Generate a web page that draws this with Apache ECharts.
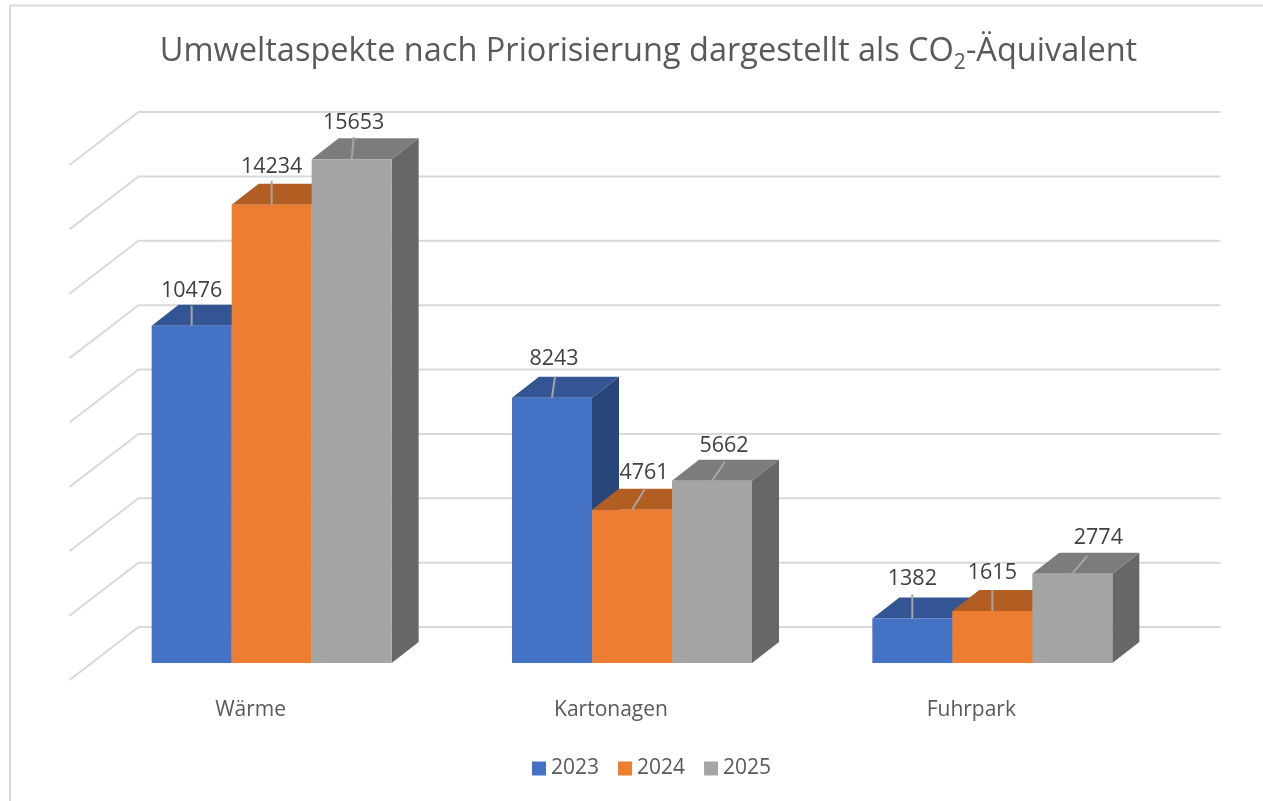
<!DOCTYPE html>
<html>
<head>
<meta charset="utf-8">
<title>Umweltaspekte</title>
<script src="https://cdn.jsdelivr.net/npm/echarts@6/dist/echarts.min.js"></script>
<style>
  html, body { margin: 0; padding: 0; background: #fff; }
  #chart { width: 1263px; height: 801px; }
</style>
</head>
<body>
<div id="chart"></div>
<script>
// Daten
var categories = ['Wärme', 'Kartonagen', 'Fuhrpark']
var values2023 = [10476, 8243, 1382]
var values2024 = [14234, 4761, 1615]
var values2025 = [15653, 5662, 2774]
var valueTicks = [0, 2000, 4000, 6000, 8000, 10000, 12000, 14000, 16000]

var FONT = '"Open Sans", sans-serif'
var GRID_COLOR = '#D9D9D9'
var BAR_W = 80
var DEPTH_X = 27
var DEPTH_Y = 21

// Farben: Front, Oberseite, Seite
var faces2023 = ['#4472C4', '#335593', '#29467A']
var faces2024 = ['#ED7D31', '#B25E22', '#9A5020']
var faces2025 = ['#A5A5A5', '#7C7C7C', '#676767']

// Versatz der Beschriftung zur Balkenoberkante: [Text x, Text y, Linie x, Linie y]
var labelOffsets2023 = [[0, -35, 0, -20], [2, -39, 3, -21], [0, -40, 0, -24]]
var labelOffsets2024 = [[0, -38, 0, -24], [12, -37, 13, -21], [0, -38, 0, -21]]
var labelOffsets2025 = [[2, -36, 2, -22], [12, -35, 13, -19], [26, -36, 15, -18]]

// Rückwand und linke Wand
function renderWall(params, api) {
  var y = api.coord([0, api.value(0)])[1]
  var left = params.coordSys.x
  var right = left + params.coordSys.width
  return {
    type: 'polyline',
    silent: true,
    shape: { points: [[left - 22, y + 17], [left + 47, y - 36], [right + 48, y - 36]] },
    style: { fill: null, stroke: GRID_COLOR, lineWidth: 2 }
  }
}

// 3D-Balken
function makeBarRenderer(groupIndex, faces, offsets) {
  return function (params, api) {
    var i = api.value(0)
    var top = api.coord([i, api.value(1)])
    var base = api.coord([i, 0])
    var cx = top[0] + (groupIndex - 1) * BAR_W
    var x0 = cx - BAR_W / 2
    var x1 = cx + BAR_W / 2
    var o = offsets[i]
    return {
      type: 'group',
      children: [
        {
          type: 'polygon',
          shape: { points: [[x1, top[1]], [x1 + DEPTH_X, top[1] - DEPTH_Y], [x1 + DEPTH_X, base[1] - DEPTH_Y], [x1, base[1]]] },
          style: { fill: faces[2] }
        },
        {
          type: 'polygon',
          shape: { points: [[x0, top[1]], [x0 + DEPTH_X, top[1] - DEPTH_Y], [x1 + DEPTH_X, top[1] - DEPTH_Y], [x1, top[1]]] },
          style: { fill: faces[1] }
        },
        {
          type: 'rect',
          shape: { x: x0, y: top[1], width: BAR_W, height: base[1] - top[1] },
          style: { fill: faces[0] }
        },
        {
          type: 'line',
          shape: { x1: cx, y1: top[1], x2: cx + o[2], y2: top[1] + o[3] },
          style: { stroke: '#A6A6A6', lineWidth: 2 }
        },
        {
          type: 'text',
          style: {
            x: cx + o[0],
            y: top[1] + o[1],
            text: String(api.value(1)),
            fill: '#404040',
            font: '21.5px ' + FONT,
            align: 'center',
            verticalAlign: 'middle'
          }
        }
      ]
    }
  }
}

function barSeries(name, values, groupIndex, faces, offsets) {
  return {
    name: name,
    type: 'custom',
    coordinateSystem: 'cartesian2d',
    z: 3,
    clip: false,
    itemStyle: { color: faces[0] },
    encode: { x: 0, y: 1 },
    renderItem: makeBarRenderer(groupIndex, faces, offsets),
    data: values.map(function (v, i) { return [i, v] })
  }
}

var chart = echarts.init(document.getElementById('chart'))
chart.setOption({
  animation: false,
  backgroundColor: '#fff',
  title: {
    text: '{t|Umweltaspekte nach Priorisierung dargestellt als CO}{s|2}{t|-Äquivalent}',
    left: 643.5,
    textAlign: 'center',
    top: 25,
    textStyle: {
      fontWeight: 'normal',
      rich: {
        t: { fontFamily: FONT, fontSize: 32.5, fontWeight: 'normal', color: '#595959', lineHeight: 44 },
        s: { fontFamily: FONT, fontSize: 21, fontWeight: 'normal', color: '#595959', lineHeight: 44, verticalAlign: 'bottom', padding: [14, 0, 0, 0] }
      }
    }
  },
  legend: {
    data: ['2023', '2024', '2025'],
    left: 532,
    top: 758,
    padding: 0,
    icon: 'rect',
    itemWidth: 14,
    itemHeight: 14,
    itemGap: 19,
    selectedMode: false,
    textStyle: { fontFamily: FONT, fontSize: 21, color: '#595959' }
  },
  grid: { left: 91.5, top: 148, width: 1081, height: 515 },
  xAxis: {
    type: 'category',
    data: categories,
    axisLine: { show: false },
    axisTick: { show: false },
    axisLabel: {
      margin: 37,
      padding: [0, 42, 0, 0],
      fontFamily: FONT,
      fontSize: 21,
      color: '#595959'
    }
  },
  yAxis: {
    type: 'value',
    min: 0,
    max: 16000,
    interval: 2000,
    show: false,
    splitLine: { show: false }
  },
  graphic: [
    { type: 'line', silent: true, shape: { x1: 10, y1: 5.5, x2: 1263, y2: 5.5 }, style: { stroke: '#D9D9D9', lineWidth: 2 } },
    { type: 'line', silent: true, shape: { x1: 10, y1: 5.5, x2: 10, y2: 801 }, style: { stroke: '#D9D9D9', lineWidth: 2 } }
  ],
  series: [
    {
      type: 'custom',
      coordinateSystem: 'cartesian2d',
      z: 1,
      clip: false,
      silent: true,
      encode: { y: 0 },
      renderItem: renderWall,
      data: valueTicks.map(function (v) { return [v] })
    },
    barSeries('2023', values2023, 0, faces2023, labelOffsets2023),
    barSeries('2024', values2024, 1, faces2024, labelOffsets2024),
    barSeries('2025', values2025, 2, faces2025, labelOffsets2025)
  ]
})
</script>
</body>
</html>
